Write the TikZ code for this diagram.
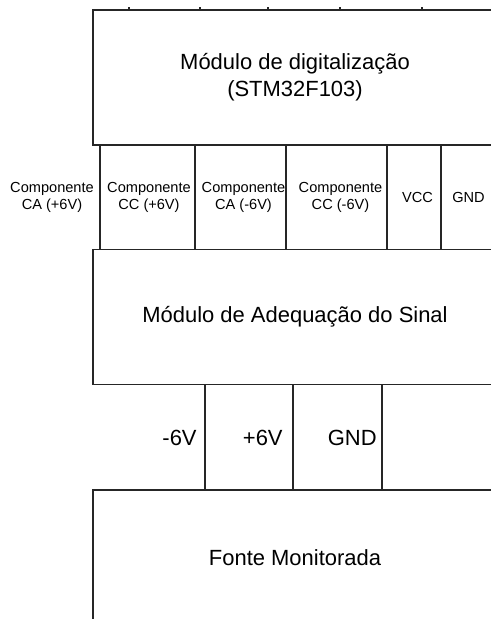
\documentclass[tikz,border=0pt]{standalone}
\usepackage{fontspec}
\setmainfont{Liberation Sans}

\tikzset{
  modbox/.style={draw=black!85, line width=1pt, rectangle,
    minimum width=8.08cm, minimum height=2.7cm, inner sep=0pt,
    align=center, font=\fontsize{12.5}{15.3}\selectfont},
  pinlabel/.style={inner sep=0pt, align=center,
    font=\fontsize{8.3}{9.6}\selectfont},
  supplylabel/.style={inner sep=0pt, anchor=east,
    font=\fontsize{12.5}{15.3}\selectfont},
  wire/.style={draw=black!85, line width=1pt},
}

\begin{document}
\begin{tikzpicture}[
  every node/.style={text=black},
]

% ---- Page: 491 x 619 px, 1 px = 0.02 cm ----
\useasboundingbox (0,0) rectangle (9.82,-12.38);
\clip (0,0) rectangle (9.82,-12.38);

% ---- Modules (right side runs past the page edge) ----
\node[modbox] (dig)   at (5.9,-1.55)  {M\'odulo de digitaliza\c{c}\~ao\\(STM32F103)};
\node[modbox] (adq)   at (5.9,-6.34)  {M\'odulo de Adequa\c{c}\~ao do Sinal};
\node[modbox] (fonte) at (5.9,-11.15) {Fonte Monitorada};

% ---- Stubs above the digitalization module ----
\foreach \i/\x in {1/2.58, 2/4.0, 3/5.36, 4/6.8, 5/8.44} {
  \coordinate (tk\i) at (\x,0);
  \draw[wire] (dig.north -| tk\i) -- ++(0,0.05);
}

% ---- Signals: adequacao -> digitalizacao ----
\foreach \i/\x in {1/2.0, 2/3.9, 3/5.72, 4/7.74, 5/8.82} {
  \coordinate (sg\i) at (\x,0);
  \draw[wire] (adq.north -| sg\i) -- (dig.south -| sg\i);
}

\node[pinlabel] (caP) at (1.04,-3.95) {Componente\\CA (+6V)};
\node[pinlabel] (ccP) at (2.98,-3.95) {Componente\\CC (+6V)};
\node[pinlabel] (caN) at (4.87,-3.95) {Componente\\CA (-6V)};
\node[pinlabel] (ccN) at (6.81,-3.95) {Componente\\CC (-6V)};
\node[pinlabel] (vcc) at (8.35,-3.95) {VCC};
\node[pinlabel] (gnd) at (9.37,-3.95) {GND};

% ---- Supply: fonte -> adequacao ----
\foreach \i/\x in {1/4.1, 2/5.86, 3/7.64} {
  \coordinate (sp\i) at (\x,0);
  \draw[wire] (fonte.north -| sp\i) -- (adq.south -| sp\i);
}

\node[supplylabel] (vneg) at (3.94,-8.76) {-6V};
\node[supplylabel] (vpos) at (5.66,-8.76) {+6V};
\node[supplylabel] (vgnd) at (7.54,-8.76) {GND};

\end{tikzpicture}
\end{document}
